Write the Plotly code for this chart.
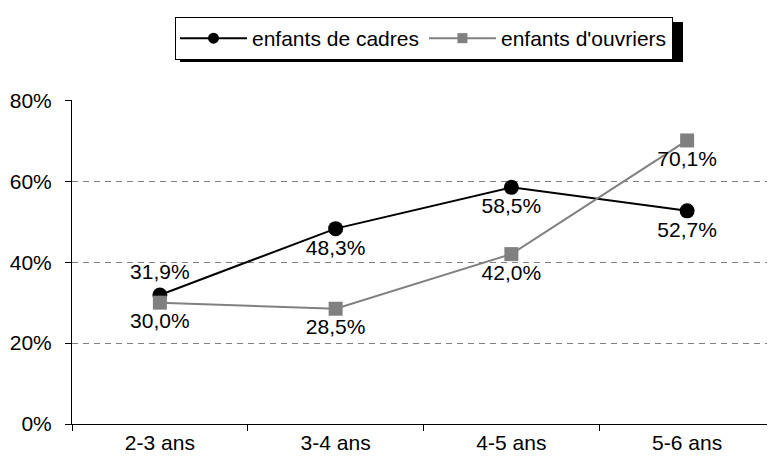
import plotly.graph_objects as go

categories = ["2-3 ans", "3-4 ans", "4-5 ans", "5-6 ans"]
cadres = [31.9, 48.3, 58.5, 52.7]
ouvriers = [30.0, 28.5, 42.0, 70.1]
y_ticks = [0, 20, 40, 60, 80]


def fr_pct(v):
    return f"{v:.1f}".replace(".", ",") + "%"


fig = go.Figure()

fig.add_trace(go.Scatter(
    x=categories, y=cadres,
    name="enfants de cadres", legendgroup="cadres", showlegend=False,
    mode="lines+markers+text",
    line=dict(color="black", width=2),
    marker=dict(symbol="circle", size=15, color="black"),
    text=[fr_pct(v) for v in cadres],
    textposition=["top center", "bottom center", "bottom center", "bottom center"],
    textfont=dict(size=21, color="black"),
    hoverinfo="skip",
))

fig.add_trace(go.Scatter(
    x=categories, y=ouvriers,
    name="enfants d'ouvriers", legendgroup="ouvriers", showlegend=False,
    mode="lines+markers+text",
    line=dict(color="#808080", width=2),
    marker=dict(symbol="square", size=14, color="#808080"),
    text=[fr_pct(v) for v in ouvriers],
    textposition="bottom center",
    textfont=dict(size=21, color="black"),
    hoverinfo="skip",
))

# legend entries with smaller symbols, like the original
fig.add_trace(go.Scatter(
    x=[None], y=[None], name="enfants de cadres", legendgroup="cadres",
    mode="lines+markers", line=dict(color="black", width=2),
    marker=dict(symbol="circle", size=11, color="black"),
))
fig.add_trace(go.Scatter(
    x=[None], y=[None], name="enfants d'ouvriers", legendgroup="ouvriers",
    mode="lines+markers", line=dict(color="#808080", width=2),
    marker=dict(symbol="square", size=10, color="#808080"),
))

# legend shadow (black box offset behind the legend)
fig.add_shape(type="rect", xref="paper", yref="paper",
              x0=(180 - 72) / 703, x1=(683 - 72) / 703,
              y0=(424 - 62) / 324, y1=(424 - 22) / 324,
              fillcolor="black", line=dict(width=0), layer="above")

# page body has an 8px margin, so the figure is 8px smaller than the window
fig.update_layout(
    width=767, height=456,
    margin=dict(l=64, r=0, t=92, b=40, autoexpand=False),
    paper_bgcolor="white", plot_bgcolor="white",
    font=dict(family="Liberation Sans, Arial, sans-serif", size=21, color="black"),
    showlegend=True,
    legend=dict(
        orientation="h",
        x=(175 - 72) / 703, xanchor="left",
        y=(424 - 17) / 324, yanchor="top",
        bgcolor="white", bordercolor="black", borderwidth=1,
        font=dict(size=21),
        itemwidth=67,
        itemclick=False, itemdoubleclick=False,
    ),
)

fig.update_xaxes(
    type="category", range=[-0.5, 3.5],
    showline=True, linecolor="black", linewidth=1,
    ticks="outside", ticklen=6, tickcolor="black", tickson="boundaries",
    showgrid=False,
)

fig.update_yaxes(
    range=[0, 80.1], tickvals=y_ticks, ticktext=[f"{v}%" for v in y_ticks],
    showline=True, linecolor="black", linewidth=1,
    ticks="outside", ticklen=6, tickcolor="black", ticklabelstandoff=9,
    showgrid=True, gridcolor="#808080", gridwidth=1, griddash="6px,5px",
    zeroline=False,
)

fig.write_html("out.html")
